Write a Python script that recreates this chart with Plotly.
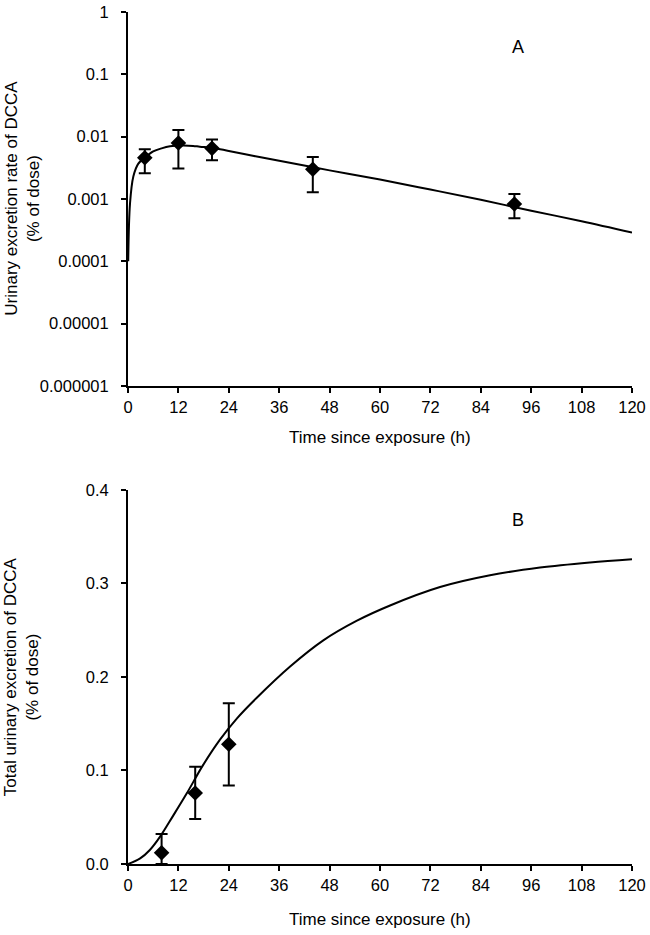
import plotly.graph_objects as go

# Panel A: urinary excretion rate of DCCA (% of dose), log scale
rate_t = [4, 12, 20, 44, 92]
rate_val = [0.0046, 0.0079, 0.0065, 0.0030, 0.00083]
rate_hi = [0.0063, 0.0128, 0.0090, 0.0047, 0.0012]
rate_lo = [0.0026, 0.0031, 0.0042, 0.00128, 0.00049]

# fitted curve
rate_fit_t = [0.05, 0.48, 1.27, 2.46, 4, 6, 8, 10, 13, 15.5, 17.1, 20.3,
              24, 30, 36, 48, 60, 72, 84, 96, 108, 120]
rate_fit_val = [0.0001, 0.00085, 0.0023, 0.0037, 0.0046, 0.0058, 0.0065, 0.0070,
                0.0072, 0.0071, 0.0069, 0.0066, 0.0059, 0.0049, 0.0041, 0.00288,
                0.00205, 0.00142, 0.00097, 0.00065, 0.00044, 0.00029]

# Panel B: total urinary excretion of DCCA (% of dose)
cum_t = [8, 16, 24]
cum_val = [0.012, 0.076, 0.128]
cum_hi = [0.032, 0.104, 0.172]
cum_lo = [0.0, 0.048, 0.084]

cum_fit_t = [0, 2.9, 5.2, 7.6, 10.8, 14, 17.9, 21.9, 25.9, 30.6, 38.6, 46.5,
             54.4, 62.4, 74.3, 86.2, 98.1, 110, 120]
cum_fit_val = [0, 0.006, 0.015, 0.029, 0.052, 0.0756, 0.106, 0.133, 0.1555,
               0.1775, 0.2112, 0.2392, 0.2600, 0.2765, 0.2962, 0.3088, 0.3170,
               0.3225, 0.3260]

x_ticks = [0, 12, 24, 36, 48, 60, 72, 84, 96, 108, 120]
log_ticks = [1e-6, 1e-5, 1e-4, 1e-3, 1e-2, 1e-1, 1]
log_labels = ["0.000001", "0.00001", "0.0001", "0.001", "0.01", "0.1", "1"]
lin_ticks = [0.0, 0.1, 0.2, 0.3, 0.4]

FONT = "Arial, Liberation Sans, sans-serif"
BLACK = "#000000"


def _err(val, hi, lo):
    plus = [h - v for v, h in zip(val, hi)]
    minus = [v - l for v, l in zip(val, lo)]
    return dict(type="data", symmetric=False, array=plus, arrayminus=minus,
                color=BLACK, thickness=2, width=6)


fig = go.Figure()

fig.add_trace(go.Scatter(x=rate_fit_t, y=rate_fit_val, mode="lines",
                         line=dict(color=BLACK, width=2, shape="spline"),
                         xaxis="x", yaxis="y", showlegend=False))
fig.add_trace(go.Scatter(x=rate_t, y=rate_val, mode="markers",
                         marker=dict(symbol="diamond", size=12, color=BLACK),
                         error_y=_err(rate_val, rate_hi, rate_lo),
                         xaxis="x", yaxis="y", showlegend=False))

fig.add_trace(go.Scatter(x=cum_fit_t, y=cum_fit_val, mode="lines",
                         line=dict(color=BLACK, width=2, shape="spline"),
                         xaxis="x2", yaxis="y2", showlegend=False))
fig.add_trace(go.Scatter(x=cum_t, y=cum_val, mode="markers",
                         marker=dict(symbol="diamond", size=12, color=BLACK),
                         error_y=_err(cum_val, cum_hi, cum_lo),
                         xaxis="x2", yaxis="y2", showlegend=False))

axis_common = dict(showline=True, linecolor=BLACK, linewidth=2, showgrid=False,
                   zeroline=False, ticks="outside", ticklen=5, tickwidth=2,
                   tickcolor=BLACK, automargin=False,
                   tickfont=dict(family=FONT, size=16.5, color=BLACK))

fig.update_layout(
    width=650, height=935,
    margin=dict(l=128, r=18, t=12, b=71, autoexpand=False),
    paper_bgcolor="white", plot_bgcolor="white",
    font=dict(family=FONT, size=17, color=BLACK),
    xaxis=dict(domain=[0, 1], anchor="y", range=[0, 120], tickvals=x_ticks, **axis_common),
    yaxis=dict(domain=[0.561, 1], anchor="x", type="log", range=[-6, 0],
               tickvals=log_ticks, ticktext=log_labels, ticklabelstandoff=9, **axis_common),
    xaxis2=dict(domain=[0, 1], anchor="y2", range=[0, 120], tickvals=x_ticks, **axis_common),
    yaxis2=dict(domain=[0, 0.439], anchor="x2", range=[0, 0.4], tickvals=lin_ticks,
                tickformat=".1f", ticklabelstandoff=9, **axis_common),
    annotations=[
        dict(text="Time since exposure (h)", xref="paper", yref="paper", x=0.5, y=0.501,
             showarrow=False, xanchor="center", yanchor="middle"),
        dict(text="Time since exposure (h)", xref="paper", yref="paper", x=0.5, y=-0.0657,
             showarrow=False, xanchor="center", yanchor="middle"),
        dict(text="Urinary excretion rate of DCCA<br>(% of dose)", xref="paper", yref="paper",
             x=-0.21, y=0.781, textangle=-90, showarrow=False,
             xanchor="center", yanchor="middle"),
        dict(text="Total urinary excretion of DCCA<br>(% of dose)", xref="paper", yref="paper",
             x=-0.21, y=0.2195, textangle=-90, showarrow=False,
             xanchor="center", yanchor="middle"),
        dict(text="A", xref="paper", yref="paper", x=0.774, y=0.959, showarrow=False,
             xanchor="center", yanchor="middle", font=dict(size=18)),
        dict(text="B", xref="paper", yref="paper", x=0.774, y=0.404, showarrow=False,
             xanchor="center", yanchor="middle", font=dict(size=18)),
    ],
)

# drop the default page margin so the figure sits at the window origin
fig.write_html("out.html", config={"displayModeBar": False},
               post_script="document.body.style.margin = '0px';")
